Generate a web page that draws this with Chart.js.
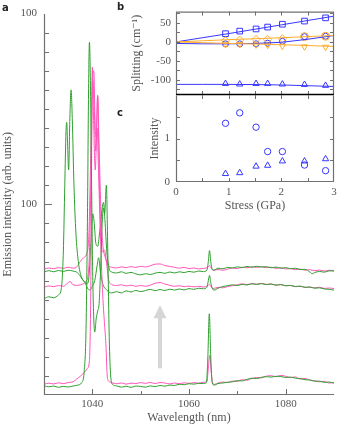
<!DOCTYPE html>
<html>
<head>
<meta charset="utf-8">
<script src="https://cdn.jsdelivr.net/npm/chart.js@4.4.1/dist/chart.umd.min.js"></script>
<style>
body { margin: 0; background: #fff; }
#wrap { position: relative; width: 341px; height: 429px; }
canvas { position: absolute; left: 0; top: 0; }
</style>
</head>
<body>
<div id="wrap">
<canvas id="mainChart" width="341" height="429"></canvas>
<canvas id="splitChart" width="341" height="429"></canvas>
<canvas id="intChart" width="341" height="429"></canvas>
</div>
<script>
// Panel a: emission spectra, [wavelength nm, intensity]
const greenLow = [[1030,4.8],[1031,4.3],[1032,4.7],[1033,4.0],[1034,4.5],[1035,4.2],[1036,4.7],[1037,5.2],[1037.8,6.5],[1038.3,12],[1038.7,35],[1039.0,95],[1039.2,155],[1039.4,185],[1039.6,165],[1039.85,110],[1040.1,60],[1040.5,33],[1040.8,40],[1041.1,44],[1041.4,48],[1041.7,65],[1042.0,88],[1042.3,98],[1042.55,95],[1042.9,110],[1043.2,75],[1043.5,30],[1043.8,10],[1044.2,5.5],[1045,4.8],[1046,4.1],[1047,4.6],[1048,4.0],[1049,4.7],[1050,4.5],[1051,4.1],[1052,4.8],[1053,4.4],[1054,5.0],[1055,4.6],[1056,5.2],[1057,5.0],[1058,5.6],[1059,5.4],[1060,5.9],[1061,5.7],[1062,6.1],[1063,6.0],[1063.6,6.4],[1063.9,20],[1064.2,42.6],[1064.5,20],[1064.8,6.5],[1065.2,5.2],[1066,6.0],[1067,6.3],[1068,6.7],[1069,6.9],[1070,7.5],[1071,7.4],[1072,8.2],[1073,8.8],[1074,8.6],[1075,9.3],[1076,9.6],[1077,9.4],[1078,9.8],[1079,9.7],[1080,9.2],[1081,9.4],[1082,8.8],[1083,8.6],[1084,8.0],[1085,7.9],[1086,7.2],[1087,7.3],[1088,6.6],[1089,6.8],[1090,6.2]];
const pinkLow = [[1030,5.6],[1031,6.2],[1032,5.8],[1033,6.4],[1034,6.0],[1035,6.5],[1036,6.9],[1036.8,8.5],[1037.6,10],[1038.4,12],[1039,14],[1039.4,18],[1039.7,60],[1040.0,172],[1040.3,140],[1040.6,118],[1040.85,135],[1041.1,157],[1041.4,120],[1041.8,75],[1042.2,50],[1042.5,38],[1042.8,27],[1043.1,9.5],[1043.5,7],[1044,6.5],[1045,5.9],[1046,6.3],[1047,5.7],[1048,6.2],[1049,6.0],[1050,6.5],[1051,6.1],[1052,6.6],[1053,6.0],[1054,6.5],[1055,6.3],[1056,5.8],[1057,6.3],[1058,5.9],[1059,6.4],[1060,6.1],[1061,6.5],[1062,6.2],[1063,6.7],[1063.7,7],[1064.0,14],[1064.3,21],[1064.6,12],[1064.9,6.2],[1065.3,5.6],[1066,6.2],[1067,6.8],[1068,6.5],[1069,7.3],[1070,7.2],[1071,8.0],[1072,7.8],[1073,8.6],[1074,9.2],[1075,9.0],[1076,9.9],[1077,10.1],[1078,9.6],[1079,10.3],[1080,9.8],[1081,9.1],[1082,9.5],[1083,8.4],[1084,8.7],[1085,7.8],[1086,7.5],[1087,6.9],[1088,7.2],[1089,6.3],[1090,6.5]];
const greenMid = [[1030,50.5],[1031,51.5],[1032,51],[1033,52.5],[1033.6,56],[1034.0,75],[1034.3,110],[1034.55,138],[1034.7,143],[1034.9,130],[1035.1,118],[1035.35,145],[1035.6,160],[1035.85,145],[1036.2,110],[1036.6,85],[1037.1,70],[1037.6,63],[1038.1,60],[1038.5,59],[1039,56],[1039.5,55],[1040,57],[1040.5,60],[1041,68],[1041.3,72],[1041.7,64],[1042.2,58],[1043,55],[1044,53.5],[1045,54.2],[1046,53.5],[1047,54.6],[1048,54.0],[1049,54.8],[1050,54.2],[1051,54.8],[1052,55.4],[1053,54.7],[1054,55.3],[1055,54.8],[1056,55.5],[1057,55.0],[1058,55.6],[1059,55.1],[1060,55.8],[1061,55.4],[1062,56.0],[1063,55.7],[1063.7,56.5],[1064.0,60],[1064.25,62.7],[1064.5,59],[1064.8,56],[1065.2,55],[1066,56],[1067,56.9],[1068,57.3],[1069,57.8],[1070,57.4],[1071,58.0],[1072,57.7],[1073,58.3],[1074,58.0],[1075,58.4],[1076,57.9],[1077,58.2],[1078,57.6],[1079,57.9],[1080,57.3],[1081,57.5],[1082,56.9],[1083,57.1],[1084,56.5],[1085,56.6],[1086,56.0],[1087,56.2],[1088,55.6],[1089,55.4],[1090,55.0]];
const pinkMid = [[1030,56.5],[1031,57.2],[1032,56.8],[1033,57.4],[1034,57.0],[1034.8,58.5],[1035.4,59.5],[1036,57.8],[1037,57.5],[1038,58.2],[1038.8,60],[1039.3,68],[1039.7,110],[1040.1,165],[1040.4,150],[1040.7,128],[1041.0,140],[1041.3,115],[1041.7,85],[1042.1,75],[1042.5,76],[1042.9,70],[1043.4,60],[1044,58],[1045,57.4],[1046,57.8],[1047,57.2],[1048,57.6],[1049,57.0],[1050,57.4],[1051,57.0],[1052,57.6],[1053,58.6],[1054,59.0],[1055,58.2],[1056,57.5],[1057,57.0],[1058,57.3],[1059,56.8],[1060,57.1],[1061,56.7],[1062,57.0],[1063,56.6],[1063.8,57.2],[1064.2,58.0],[1064.5,57.0],[1065,55.8],[1066,56.5],[1067,56.2],[1068,56.9],[1069,57.3],[1070,57.8],[1071,58.3],[1072,57.9],[1073,58.4],[1074,58.1],[1075,58.5],[1076,58.0],[1077,58.2],[1078,57.6],[1079,57.9],[1080,57.3],[1081,57.4],[1082,56.8],[1083,57.0],[1084,56.4],[1085,56.6],[1086,56.2],[1087,56.5],[1088,55.9],[1089,56.1],[1090,55.8]];
const greenHigh = [[1030,64.5],[1031,65.2],[1032,64.6],[1033,65.3],[1034,64.8],[1035,65.4],[1036,65.0],[1036.9,64.2],[1037.6,62],[1038.3,59.5],[1038.9,58.3],[1039.3,62],[1039.7,80],[1040.1,95],[1040.4,90],[1040.7,80],[1041.1,78],[1041.5,85],[1041.9,95],[1042.3,101],[1042.6,92],[1043,75],[1043.5,66],[1044,64.5],[1045,64.0],[1046,64.6],[1047,63.8],[1048,64.3],[1049,63.5],[1050,63.0],[1051,63.6],[1052,63.2],[1053,63.9],[1054,64.3],[1055,63.8],[1056,64.5],[1057,64.0],[1058,64.6],[1059,64.2],[1060,64.8],[1061,64.4],[1062,65.0],[1063,64.7],[1063.7,65.5],[1064.0,70],[1064.25,75.7],[1064.5,70],[1064.8,66],[1065.2,65.5],[1066,66.5],[1067,66.2],[1068,66.9],[1069,66.6],[1070,67.2],[1071,66.8],[1072,67.4],[1073,67.0],[1074,67.5],[1075,67.1],[1076,67.3],[1077,66.7],[1078,67.1],[1079,66.5],[1080,66.8],[1081,66.2],[1082,66.5],[1083,65.8],[1084,65.9],[1085,64.5],[1085.5,63.6],[1086,64.2],[1087,64.8],[1088,64.4],[1089,65.1],[1090,65.0]];
const pinkHigh = [[1030,66.0],[1031,66.6],[1032,66.2],[1033,66.8],[1034,66.4],[1035,67.0],[1036,66.5],[1036.8,67.2],[1037.5,70],[1038.2,72],[1038.8,74],[1039.3,85],[1039.7,130],[1040.0,165],[1040.3,170],[1040.6,140],[1040.8,135],[1041.1,157],[1041.4,130],[1041.8,95],[1042.2,78],[1042.7,72],[1043.3,68],[1044,67],[1045,66.6],[1046,67.2],[1047,66.8],[1048,67.3],[1049,66.9],[1050,67.5],[1051,67.1],[1052,67.8],[1053,68.6],[1054,68.7],[1055,67.9],[1056,67.4],[1057,67.0],[1058,66.5],[1059,66.9],[1060,66.3],[1061,66.6],[1062,66.1],[1063,66.4],[1063.8,66.8],[1064.2,67.9],[1064.6,66.5],[1065,65.3],[1066,65.8],[1067,65.4],[1068,66.0],[1069,66.6],[1070,66.3],[1071,67.0],[1072,66.7],[1073,67.2],[1074,66.9],[1075,67.3],[1076,66.8],[1077,67.0],[1078,66.4],[1079,66.7],[1080,66.1],[1081,66.3],[1082,65.7],[1083,66.0],[1084,65.5],[1085,65.7],[1086,65.2],[1087,65.5],[1088,65.0],[1089,65.4],[1090,65.3]];

// tick labels
const wavelengthLabels = [1040, 1060, 1080];
const emissionTickValues = [100, 200];
const emissionTickText = ['100', '100'];
const splittingLabels = [-100, -50, 0, 50];
const splittingTicks = [-125, -100, -75, -50, -25, 0, 25, 50, 75];
const relIntensityLabels = [0, 1];
const stressLabels = [0, 1, 2, 3];

// arrow in panel a (data coords)
const arrowWave = 1054;
const arrowFrom = 14;
const arrowTo = 47;

// Panels b and c
const stressPoints = [0.94, 1.21, 1.52, 1.74, 2.02, 2.44, 2.84];
const splitSquare = [21.7, 28.5, 34.2, 39.2, 46.7, 55, 63.5];
const splitCircle = [-5, -5, -5, -3.3, 1.7, 14, 15];
const splitDiamond = [3.4, 5, 6.7, 6.7, 8.4, 14, 15];
const splitDown = [-6.7, -6.7, -7.5, -8.3, -10.8, -12.5, -13.5];
const splitTriangle = [-110, -111.5, -110, -110, -111.5, -112.5, -115];
const fitStress = [0, 0.5, 1, 1.5, 2, 2.5, 3];
const fitSquare = [0, 11, 22, 33.5, 45, 56.5, 68];
const fitCircle = [-4, -5, -5, -4, -1, 7, 17];
const fitOrangeUp = [0, 3, 6, 8.5, 11, 14, 17];
const fitOrangeDown = [0, -2, -4, -5.5, -7.5, -9.5, -12];
const fitTriangle = [-112, -112, -112, -112.5, -113.5, -115.5, -117.5];
const intCircle = [1.35, 1.59, 1.26, 0.70, 0.70, 0.39, 0.26];
const intTriangle = [0.19, 0.21, 0.36, 0.38, 0.48, 0.48, 0.53];

const serif = "'Liberation Serif', 'DejaVu Serif', serif";
const textGrey = '#555';
const axisGrey = '#707070';
const green = 'rgb(45,160,45)';
const pink = 'rgb(255,85,185)';
const blue = 'rgb(55,55,255)';
const orange = 'rgb(255,172,45)';

function pairs(list) {
    return list.map(p => ({x: p[0], y: p[1]}));
}
function pts(xs, ys) {
    return xs.map((x, i) => ({x: x, y: ys[i]}));
}

// frame lines + inward ticks
const frameTicks = {
    id: 'frameTicks',
    afterDraw(chart, args, o) {
        const ctx = chart.ctx;
        const a = chart.chartArea;
        const x = chart.scales.x, y = chart.scales.y;
        ctx.save();
        ctx.lineWidth = 1;
        ctx.strokeStyle = axisGrey;
        ctx.beginPath();
        x.ticks.forEach(t => {
            if (t.value <= x.min || t.value >= x.max) return;
            const px = Math.round(x.getPixelForValue(t.value)) + 0.5;
            const len = t.label ? o.xLen[0] : o.xLen[1];
            if (o.xSides.includes('bottom')) { ctx.moveTo(px, a.bottom); ctx.lineTo(px, a.bottom - len); }
            if (o.xSides.includes('top')) { ctx.moveTo(px, a.top); ctx.lineTo(px, a.top + len); }
        });
        y.ticks.forEach(t => {
            if (t.value <= y.min || t.value >= y.max) return;
            const py = Math.round(y.getPixelForValue(t.value)) + 0.5;
            const len = t.label ? o.yLen[0] : o.yLen[1];
            if (o.ySides.includes('left')) { ctx.moveTo(a.left, py); ctx.lineTo(a.left + len, py); }
            if (o.ySides.includes('right')) { ctx.moveTo(a.right, py); ctx.lineTo(a.right - len, py); }
        });
        ctx.stroke();
        const L = a.left + 0.5, R = a.right - 0.5, T = a.top + 0.5, B = a.bottom - 0.5;
        const sides = {left: [L, T, L, B], right: [R, T, R, B], top: [a.left, T, a.right, T], bottom: [a.left, B, a.right, B]};
        Object.keys(o.lines).forEach(k => {
            const s = sides[k];
            ctx.strokeStyle = o.lines[k];
            ctx.lineWidth = k === o.thick ? 1.5 : 1.2;
            ctx.beginPath();
            ctx.moveTo(s[0], s[1]);
            ctx.lineTo(s[2], s[3]);
            ctx.stroke();
        });
        ctx.restore();
    }
};

// grey arrow and panel letters
const extras = {
    id: 'extras',
    beforeDatasetsDraw(chart) {
        const ctx = chart.ctx;
        const x = chart.scales.x, y = chart.scales.y;
        const ax = x.getPixelForValue(arrowWave);
        const y0 = y.getPixelForValue(arrowFrom);
        const y1 = y.getPixelForValue(arrowTo);
        ctx.save();
        ctx.fillStyle = '#d6d6d6';
        ctx.fillRect(ax - 2, y1 + 10, 4, y0 - y1 - 10);
        ctx.beginPath();
        ctx.moveTo(ax, y1);
        ctx.lineTo(ax - 6.5, y1 + 13);
        ctx.lineTo(ax + 6.5, y1 + 13);
        ctx.closePath();
        ctx.fill();
        ctx.restore();
    },
    afterDraw(chart) {
        const ctx = chart.ctx;
        ctx.save();
        ctx.fillStyle = '#222';
        ctx.font = "bold 10px 'DejaVu Sans', sans-serif";
        ctx.textBaseline = 'middle';
        ctx.fillText('a', 2, 8);
        ctx.fillText('b', 117, 7);
        ctx.fillText('c', 117, 113);
        ctx.restore();
    }
};

function spectrum(list, color) {
    return {data: pairs(list), showLine: true, pointRadius: 0, borderColor: color, borderWidth: 1, cubicInterpolationMode: 'monotone'};
}

new Chart(document.getElementById('mainChart'), {
    type: 'scatter',
    data: {
        datasets: [
            spectrum(greenLow, green),
            spectrum(pinkLow, pink),
            spectrum(greenMid, green),
            spectrum(pinkMid, pink),
            spectrum(greenHigh, green),
            spectrum(pinkHigh, pink)
        ]
    },
    options: {
        responsive: false,
        animation: false,
        devicePixelRatio: 1,
        layout: {padding: {left: 0, top: 7, right: 7, bottom: 0}},
        plugins: {
            legend: {display: false},
            tooltip: {enabled: false},
            frameTicks: {lines: {left: axisGrey, bottom: axisGrey}, xSides: ['bottom'], ySides: ['left'], xLen: [6, 4], yLen: [8, 5]}
        },
        scales: {
            x: {
                type: 'linear', min: 1030, max: 1090,
                grid: {display: false, drawTicks: false},
                border: {display: false},
                ticks: {stepSize: 10, autoSkip: false, maxRotation: 0, padding: 3, color: textGrey, font: {family: serif, size: 11},
                    callback: v => wavelengthLabels.includes(v) ? String(v) : ''},
                title: {display: true, text: 'Wavelength (nm)', color: textGrey, font: {family: serif, size: 12}, padding: {top: 0, bottom: 4}},
                afterFit: s => { s.height = 34; }
            },
            y: {
                type: 'linear', min: 0, max: 200,
                grid: {display: false, drawTicks: false},
                border: {display: false},
                ticks: {stepSize: 10, autoSkip: false, padding: 7, color: textGrey, font: {family: serif, size: 11},
                    callback: v => { const i = emissionTickValues.indexOf(v); return i >= 0 ? emissionTickText[i] : ''; }},
                title: {display: true, text: 'Emission intensity (arb. units)', color: textGrey, font: {family: serif, size: 12}, padding: {top: 1, bottom: 0}},
                afterFit: s => { s.width = 44; }
            }
        }
    },
    plugins: [frameTicks, extras]
});

function fitLine(ys, color) {
    return {data: pts(fitStress, ys), showLine: true, pointRadius: 0, borderColor: color, borderWidth: 1};
}
function markers(ys, color, style, r, rot) {
    return {data: pts(stressPoints, ys), showLine: false, pointStyle: style, pointRadius: r, pointRotation: rot || 0,
        borderColor: color, backgroundColor: 'rgba(0,0,0,0)', pointBorderWidth: 1};
}

const insetX = {
    type: 'linear', min: 0, max: 3,
    grid: {display: false, drawTicks: false},
    border: {display: false}
};

new Chart(document.getElementById('splitChart'), {
    type: 'scatter',
    data: {
        datasets: [
            fitLine(fitOrangeUp, orange),
            fitLine(fitOrangeDown, orange),
            fitLine(fitSquare, blue),
            fitLine(fitCircle, blue),
            fitLine(fitTriangle, blue),
            markers(splitDiamond, orange, ['rectRot', 'rectRot', 'rectRot', 'rectRot', 'rectRot', 'circle', 'circle'], 4),
            markers(splitDown, orange, 'triangle', 3.6, 180),
            markers(splitSquare, blue, 'rect', 4),
            markers(splitCircle, blue, 'circle', 3),
            markers(splitTriangle, blue, 'triangle', 3.6)
        ]
    },
    options: {
        responsive: false,
        animation: false,
        devicePixelRatio: 1,
        layout: {padding: {left: 130, top: 7, right: 7, bottom: 334}},
        plugins: {
            legend: {display: false},
            tooltip: {enabled: false},
            frameTicks: {lines: {left: axisGrey, top: axisGrey, right: axisGrey, bottom: '#000'}, thick: 'bottom',
                xSides: ['top', 'bottom'], ySides: ['left', 'right'], xLen: [4, 4], yLen: [4, 4]}
        },
        scales: {
            x: Object.assign({}, insetX, {
                ticks: {display: false, stepSize: 0.5, autoSkip: false, callback: v => stressLabels.includes(v) ? String(v) : ''},
                afterFit: s => { s.height = 0; }
            }),
            y: {
                type: 'linear', min: -140, max: 80,
                grid: {display: false, drawTicks: false},
                border: {display: false},
                afterBuildTicks: s => { s.ticks = splittingTicks.map(v => ({value: v})); },
                ticks: {autoSkip: false, padding: 5, color: textGrey, font: {family: serif, size: 11},
                    callback: v => splittingLabels.includes(v) ? String(v) : ''},
                title: {display: true, text: 'Splitting (cm\u207B\u00B9)', color: textGrey, font: {family: serif, size: 12}, padding: {top: 0, bottom: 0}},
                afterFit: s => { s.width = 46; }
            }
        }
    },
    plugins: [frameTicks]
});

new Chart(document.getElementById('intChart'), {
    type: 'scatter',
    data: {
        datasets: [
            markers(intCircle, blue, 'circle', 3.2),
            markers(intTriangle, blue, 'triangle', 3.6)
        ]
    },
    options: {
        responsive: false,
        animation: false,
        devicePixelRatio: 1,
        layout: {padding: {left: 130, top: 95, right: 7, bottom: 216}},
        plugins: {
            legend: {display: false},
            tooltip: {enabled: false},
            frameTicks: {lines: {left: axisGrey, right: axisGrey, bottom: axisGrey},
                xSides: ['top', 'bottom'], ySides: ['left', 'right'], xLen: [4, 4], yLen: [4, 4]}
        },
        scales: {
            x: Object.assign({}, insetX, {
                ticks: {stepSize: 0.5, autoSkip: false, maxRotation: 0, padding: 4, color: textGrey, font: {family: serif, size: 11},
                    callback: v => stressLabels.includes(v) ? String(v) : ''},
                title: {display: true, text: 'Stress (GPa)', color: textGrey, font: {family: serif, size: 12}, padding: {top: 0, bottom: 0}},
                afterFit: s => { s.height = 31; }
            }),
            y: {
                type: 'linear', min: 0, max: 2,
                grid: {display: false, drawTicks: false},
                border: {display: false},
                ticks: {stepSize: 0.5, autoSkip: false, padding: 6, color: textGrey, font: {family: serif, size: 11},
                    callback: v => relIntensityLabels.includes(v) ? String(v) : ''},
                title: {display: true, text: 'Intensity', color: textGrey, font: {family: serif, size: 12}, padding: {top: 18, bottom: 0}},
                afterFit: s => { s.width = 46; }
            }
        }
    },
    plugins: [frameTicks]
});
</script>
</body>
</html>
